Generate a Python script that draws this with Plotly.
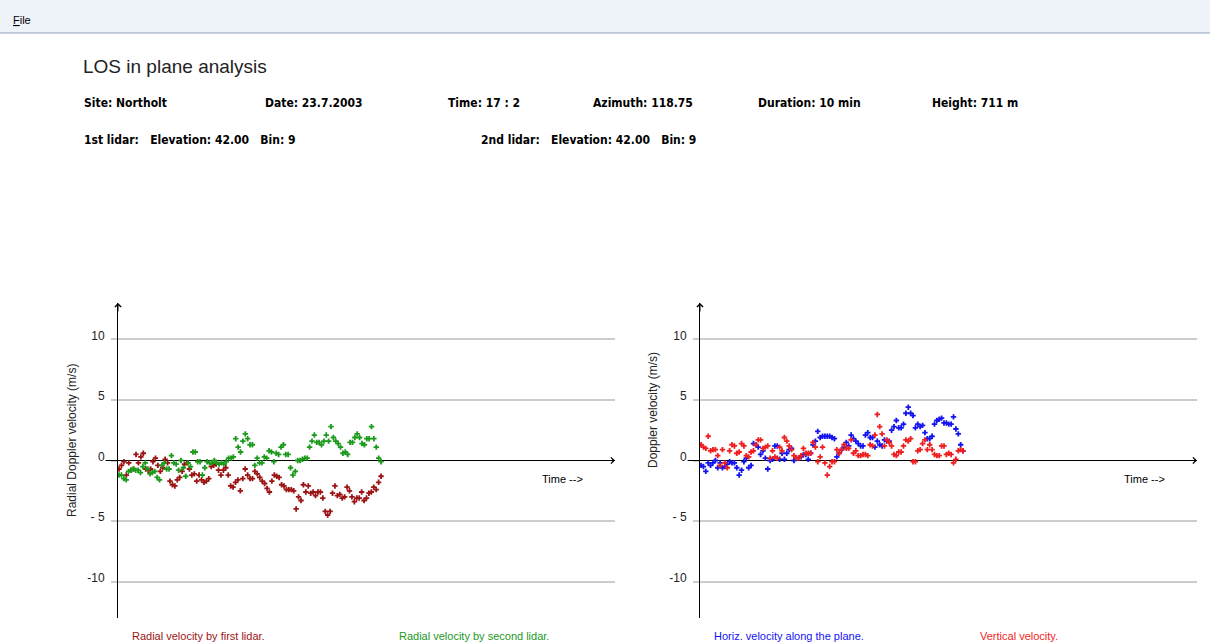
import numpy as np
import plotly.graph_objects as go

# ---------------- data ----------------
duration_min = 10
y_ticks = [-10, -5, 0, 5, 10]
y_tick_text = ["-10", "- 5", "0", "5", "10"]

radial_first = [-0.7, -0.4, -0.1, -1.2, -0.2, -0.8, -0.7, 0.5, -0.2, 0.3,
                0.6, -0.7, -0.8, -0.7, -0.1, 0.2, -0.4, -0.9, -0.6, 0.1,
                -0.2, -1.7, -2.0, -2.1, -1.6, -1.4, -0.9, -0.3, -0.2, -0.7,
                -1.2, -1.1, -1.7, -1.2, -1.6, -1.8, -1.7, -1.5, -0.5, -0.4,
                -0.3, -0.8, -1.2, -0.8, -0.6, -1.2, -2.1, -2.2, -1.8, -1.6,
                -2.5, -1.5, -0.7, -1.2, -1.5, -1.5, -0.9, -1.1, -1.4, -1.7,
                -1.9, -2.3, -2.6, -1.7, -1.2, -1.3, -1.4, -2.0, -2.1, -2.4,
                -2.4, -2.4, -2.5, -4.0, -3.0, -3.3, -2.0, -2.6, -2.1, -2.7,
                -2.6, -2.9, -2.6, -2.6, -3.1, -4.2, -4.5, -4.2, -2.7, -2.1,
                -2.9, -2.8, -3.1, -3.0, -2.2, -2.5, -3.0, -3.4, -3.1, -3.1,
                -2.6, -3.3, -3.1, -2.7, -2.6, -2.2, -2.4, -1.8, -1.3]

radial_second = [-1.2, -1.2, -1.5, -1.6, -0.9, -0.8, -0.7, -0.8, -0.8, -1.0,
                 -0.5, -0.2, -0.7, -1.1, -1.0, -0.9, -1.4, -1.6, -0.4, -0.2,
                 -0.7, -0.7, 0.4, -0.2, -0.3, -0.8, 0.0, -0.6, -1.3, -0.2,
                 -0.5, 0.7, 0.7, -0.1, -0.1, -1.2, -0.6, -0.1, -0.2, -0.2,
                 0.0, -0.2, -0.3, -0.2, -0.3, -0.1, 0.2, 0.2, 0.3, 1.8,
                 1.1, 0.7, 1.6, 2.2, 1.8, 1.3, 1.3, -0.4, 0.2, -0.2,
                 -0.2, 0.3, 0.2, 0.8, 0.7, -0.1, 0.6, 0.5, 1.1, 1.3,
                 0.5, 0.5, -0.6, -1.2, -0.9, 0.0, 0.0, 0.1, 0.2, 0.2,
                 1.1, 1.6, 2.1, 1.5, 1.5, 1.3, 1.6, 2.1, 1.6, 2.8,
                 1.9, 1.6, 1.4, 1.1, 0.6, 0.7, 0.5, 1.5, 1.5, 1.9,
                 2.2, 1.9, 1.4, 1.3, 1.8, 1.8, 2.8, 1.8, 1.1, 0.2,
                 -0.1]

horiz_velocity = [-0.4, -0.5, -0.9, -0.2, -0.4, -0.2, 0.0, -0.6, -0.2, -0.6,
                  -0.5, -0.3, -0.1, -0.2, -0.2, -0.6, -1.2, -0.8, -0.1, 0.2,
                  -0.6, -0.4, 1.4, 1.3, 1.1, 0.5, 0.8, 0.2, -0.7, 0.0,
                  0.1, 1.2, 1.2, 0.1, 0.6, 0.1, 0.6, 0.9, 1.0, 0.0,
                  0.2, 0.2, 0.3, 0.5, 0.5, 0.1, 0.6, 1.3, 1.6, 2.4,
                  1.9, 2.0, 2.0, 2.0, 2.0, 1.9, 1.8, 0.3, 0.6, 0.9,
                  1.1, 1.5, 1.2, 2.1, 1.8, 1.6, 1.4, 1.2, 1.2, 2.1,
                  2.3, 1.9, 1.9, 1.1, 1.6, 1.3, 1.2, 1.7, 1.6, 1.6,
                  2.5, 2.8, 3.3, 2.7, 2.7, 3.0, 3.9, 4.4, 3.9, 3.7,
                  2.7, 3.0, 2.8, 2.9, 2.3, 1.8, 1.8, 2.0, 3.0, 3.3,
                  3.4, 3.5, 3.1, 3.1, 3.0, 3.0, 3.6, 2.6, 2.2, 1.3,
                  0.8]

vertical_velocity = [1.3, 1.1, 1.0, 2.0, 0.8, 0.9, 0.9, 0.4, -0.4, 0.9,
                     -0.2, -0.6, 0.8, 1.3, 1.2, 0.6, 0.7, 1.4, 1.2, 0.4,
                     0.3, 0.7, 0.8, 1.3, 1.7, 1.7, 1.0, 1.1, 1.2, 0.2,
                     0.8, 0.3, 0.2, 1.1, 0.8, 1.9, 1.6, 1.2, 0.9, 0.4,
                     0.2, 0.2, 0.4, 1.0, 0.6, 0.6, 0.6, 1.5, 1.1, -0.1,
                     0.3, 1.1, -0.2, -1.2, -0.5, -0.1, -0.1, 0.9, 0.6, 0.9,
                     1.3, 1.0, 1.0, 1.7, 0.6, 0.8, 0.4, 0.4, 0.5, 0.5,
                     0.4, 1.3, 1.2, 2.1, 3.8, 2.8, 2.2, 1.2, 1.7, 1.5,
                     1.2, 0.5, 0.4, 0.7, 0.7, 1.2, 1.7, 1.6, 1.8, -0.1,
                     -0.1, 0.8, 0.9, 1.4, 1.7, 0.9, 1.3, 0.9, 0.5, 0.4,
                     0.4, 1.2, 1.2, 0.5, 0.6, 0.5, -0.2, 0.1, 0.8, 0.9,
                     0.8]

series = [
    ("Radial velocity by first lidar.", radial_first, "#9c1414", 1),
    ("Radial velocity by second lidar.", radial_second, "#1c9a1c", 1),
    ("Horiz. velocity along the plane.", horiz_velocity, "#1414f0", 2),
    ("Vertical velocity.", vertical_velocity, "#f01e1e", 2),
]

W, H = 1210, 644
FONT = "Liberation Sans, Arial, sans-serif"
BOLD = "Liberation Sans Narrow, Arial Narrow, DejaVu Sans Condensed, sans-serif"

fig = go.Figure()

for name, vals, color, panel in series:
    t = np.linspace(0, duration_min, len(vals))
    fig.add_trace(go.Scatter(
        x=t, y=vals, mode="markers", name=name,
        xaxis="x" if panel == 1 else "x2",
        yaxis="y" if panel == 1 else "y2",
        marker=dict(symbol="cross", size=4.5, color=color, line=dict(width=0)),
        showlegend=False, hoverinfo="skip",
    ))

x_range = [-0.04, 18.93]
y_range = [-13, 13]

def px_x(p):
    return p / W

def px_y(p):
    return 1 - p / H

dom_y = [px_y(618), px_y(303)]
xcommon = dict(range=x_range, showgrid=False, zeroline=False, showline=False,
               showticklabels=False, ticks="", fixedrange=True)
ycommon = dict(range=y_range, tickvals=y_ticks, ticktext=y_tick_text,
               showgrid=True, gridcolor="#cccccc", gridwidth=1.5,
               ticks="outside", ticklen=6, tickcolor="#cccccc", tickwidth=1.5,
               zeroline=True, zerolinecolor="black", zerolinewidth=1,
               showline=True, linecolor="black", linewidth=1,
               tickfont=dict(family=FONT, size=12, color="#222"),
               ticklabelstandoff=4, ticklabelshift=-4, domain=dom_y,
               fixedrange=True)

fig.update_layout(
    width=W, height=H,
    margin=dict(l=0, r=0, t=0, b=0),
    paper_bgcolor="white", plot_bgcolor="white",
    xaxis=dict(domain=[px_x(118), px_x(615)], anchor="y", **xcommon),
    xaxis2=dict(domain=[px_x(700), px_x(1197)], anchor="y2", **xcommon),
    yaxis=dict(anchor="x", **ycommon),
    yaxis2=dict(anchor="x2", **ycommon),
)

shapes = []
annotations = []

# menu bar
shapes.append(dict(type="rect", xref="paper", yref="paper", x0=0, x1=1,
                   y0=px_y(33), y1=1, fillcolor="#eef2f9", line=dict(width=0),
                   layer="below"))
shapes.append(dict(type="line", xref="paper", yref="paper", x0=0, x1=1,
                   y0=px_y(33), y1=px_y(33), line=dict(color="#8fa3bd", width=1)))
annotations.append(dict(text="<u>F</u>ile", xref="paper", yref="paper",
                        x=px_x(11), y=px_y(20), xanchor="left", yanchor="middle",
                        showarrow=False, font=dict(family=FONT, size=11, color="black")))

# title
annotations.append(dict(text="LOS in plane analysis", xref="paper", yref="paper",
                        x=px_x(81), y=px_y(66), xanchor="left", yanchor="middle",
                        showarrow=False, font=dict(family=FONT, size=19, color="#222")))

header = [("Site: Northolt", 82, 103), ("Date: 23.7.2003", 263, 103),
          ("Time: 17 : 2", 446, 103), ("Azimuth: 118.75", 591, 103),
          ("Duration: 10 min", 756, 103), ("Height: 711 m", 930, 103),
          ("1st lidar:&nbsp;&nbsp; Elevation: 42.00&nbsp;&nbsp; Bin: 9", 82, 140),
          ("2nd lidar:&nbsp;&nbsp; Elevation: 42.00&nbsp;&nbsp; Bin: 9", 479, 140)]
for txt, x, y in header:
    annotations.append(dict(text="<b>%s</b>" % txt, xref="paper", yref="paper",
                            x=px_x(x), y=px_y(y), xanchor="left", yanchor="middle",
                            showarrow=False, font=dict(family=BOLD, size=12, color="black")))

for xa, ya, ytitle, ty, tx in [("x", "y", "Radial Doppler velocity (m/s)", 441, 72),
                               ("x2", "y2", "Doppler velocity (m/s)", 410, 653)]:
    # extension of zero axis to the left
    shapes.append(dict(type="line", xref=xa + " domain", yref=ya, x0=-0.025, x1=0,
                       y0=0, y1=0, line=dict(color="black", width=1)))
    # arrow heads
    annotations.append(dict(x=x_range[0], y=y_range[1], xref=xa, yref=ya, text="",
                            showarrow=True, ax=0, ay=10, arrowhead=4, arrowsize=1.2,
                            arrowwidth=1, arrowcolor="black"))
    annotations.append(dict(x=x_range[1], y=0, xref=xa, yref=ya, text="",
                            showarrow=True, ax=-10, ay=0, arrowhead=4, arrowsize=1.2,
                            arrowwidth=1, arrowcolor="black"))
    annotations.append(dict(x=1, y=px_y(479), xref=xa + " domain", yref="paper",
                            text="Time -->", showarrow=False, xanchor="right",
                            xshift=-30, yanchor="middle",
                            font=dict(family=FONT, size=11, color="black")))
    annotations.append(dict(x=px_x(tx), y=px_y(ty), xref="paper", yref="paper",
                            text=ytitle, textangle=-90, showarrow=False,
                            xanchor="center", yanchor="middle",
                            font=dict(family=FONT, size=12, color="#222")))

legend_pos = [130, 397, 712, 978]
for (name, vals, color, panel), lx in zip(series, legend_pos):
    annotations.append(dict(x=px_x(lx), y=px_y(636), xref="paper", yref="paper",
                            text=name, showarrow=False, xanchor="left", yanchor="middle",
                            font=dict(family=FONT, size=11, color=color)))

fig.update_layout(shapes=shapes, annotations=annotations)
fig.write_html("out.html",
               config={"displayModeBar": False},
               post_script="document.body.style.margin='0';"
                           "document.body.style.overflow='hidden';")
